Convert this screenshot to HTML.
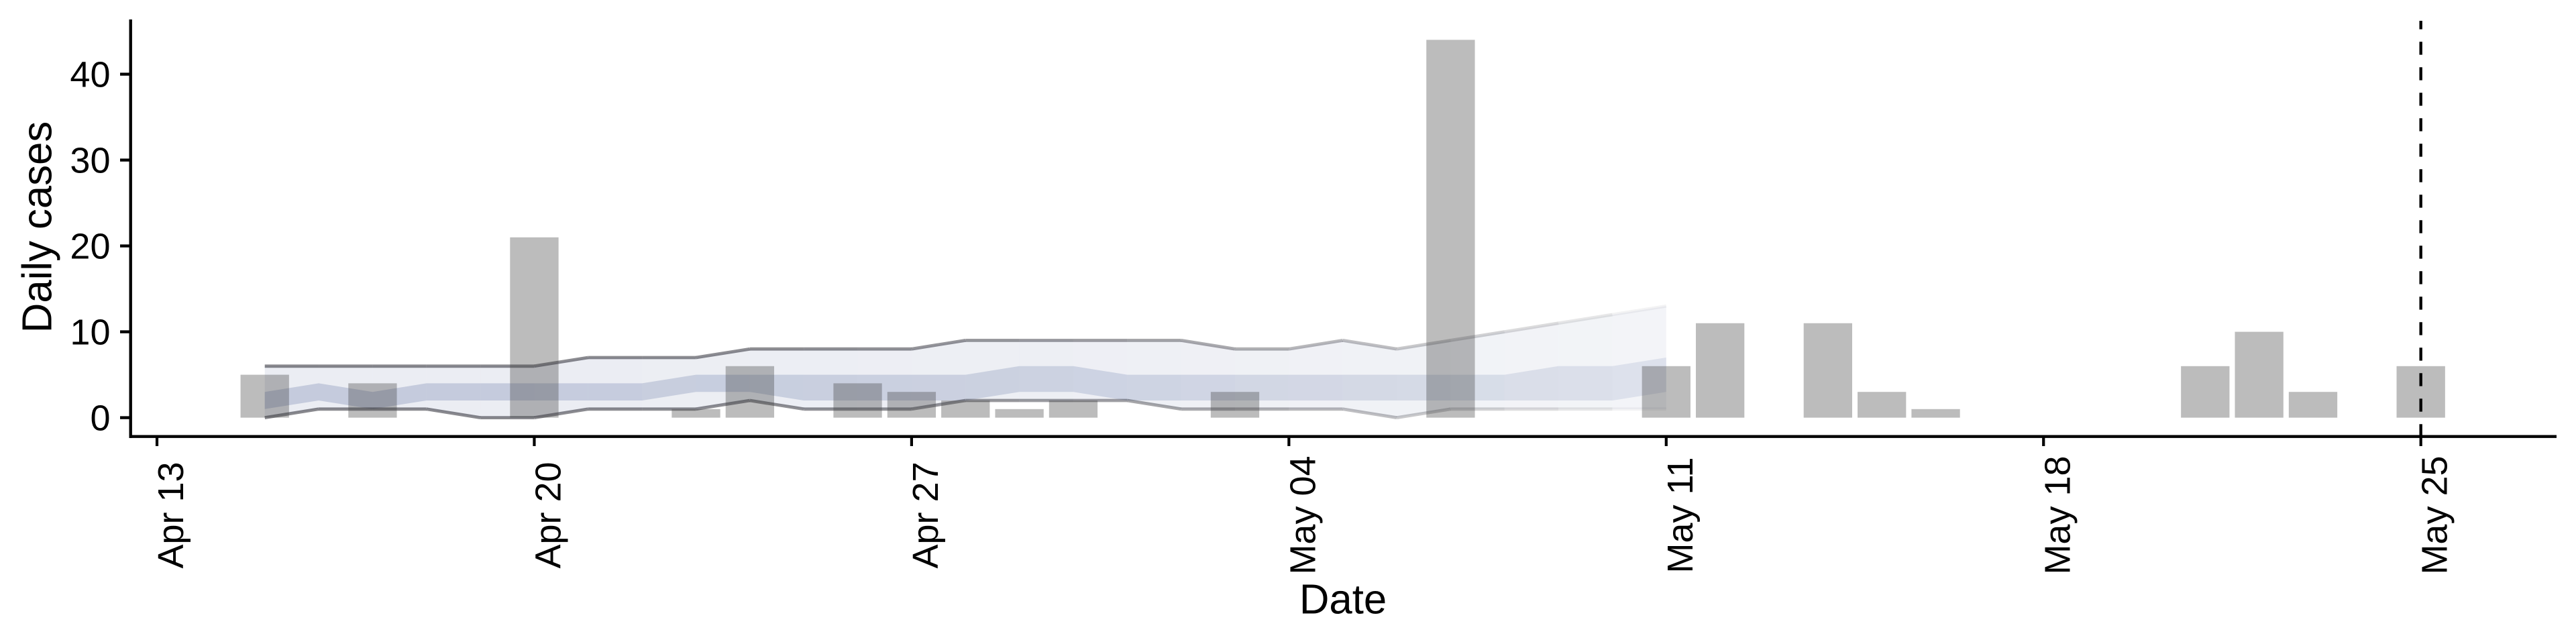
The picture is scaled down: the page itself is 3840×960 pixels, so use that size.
<!DOCTYPE html>
<html lang="en">
<head>
<meta charset="utf-8">
<title>Daily cases chart</title>
<style>
html,body{margin:0;padding:0;background:#fff;width:3840px;height:960px;overflow:hidden}
svg{display:block}
text{font-family:"Liberation Sans",sans-serif;fill:#000}
</style>
</head>
<body>
<svg id="chart" xmlns="http://www.w3.org/2000/svg" width="3840" height="960" viewBox="0 0 3840 960">
  <rect x="0" y="0" width="3840" height="960" fill="#ffffff"/>
  <g id="ribbons"></g>
  <g id="edges"></g>
  <g id="bars"></g>
  <g id="xaxis"></g>
  <g id="yaxis"></g>
  <g id="marker"></g>
  <text x="2002" y="914.3" font-size="61.7" text-anchor="middle">Date</text>
  <text transform="translate(76.5,338.5) rotate(-90)" font-size="61.7" text-anchor="middle">Daily cases</text>
</svg>
<script>
// Day numbers are counted from Apr 13.
const caseDays = [2, 4, 7, 10, 11, 13, 14, 15, 16, 17, 20, 24, 28, 29, 31, 32, 33, 38, 39, 40, 42];
const caseCounts = [5, 4, 21, 1, 6, 4, 3, 2, 1, 2, 3, 44, 6, 11, 11, 3, 1, 6, 10, 3, 6];

const forecastFirstDay = 2;
const outerUpper = [6, 6, 6, 6, 6, 6, 7, 7, 7, 8, 8, 8, 8, 9, 9, 9, 9, 9, 8, 8, 9, 8, 9, 10, 11, 12, 13];
const outerLower = [0, 1, 1, 1, 0, 0, 1, 1, 1, 2, 1, 1, 1, 2, 2, 2, 2, 1, 1, 1, 1, 0, 1, 1, 1, 1, 1];
const innerUpper = [3, 4, 3, 4, 4, 4, 4, 4, 5, 5, 5, 5, 5, 5, 6, 6, 5, 5, 5, 5, 5, 5, 5, 5, 6, 6, 7];
const innerLower = [1, 2, 1, 2, 2, 2, 2, 2, 3, 3, 2, 2, 2, 2, 3, 3, 2, 2, 2, 2, 2, 2, 2, 2, 2, 2, 3];

const xTickDays = [0, 7, 14, 21, 28, 35, 42];
const xTickLabels = ["Apr 13", "Apr 20", "Apr 27", "May 04", "May 11", "May 18", "May 25"];
const yTickValues = [0, 10, 20, 30, 40];
const forecastDateDay = 42;

const NS = "http://www.w3.org/2000/svg";
const xScale = d => 234 + d * 80.35;
const yScale = v => 622.6 - 12.8 * v;
const make = (parent, tag, attrs) => {
  const n = document.createElementNS(NS, tag);
  for (const k in attrs) n.setAttribute(k, attrs[k]);
  parent.appendChild(n);
  return n;
};

const ribbons = document.getElementById("ribbons");
const edges = document.getElementById("edges");
const bars = document.getElementById("bars");
const xaxis = document.getElementById("xaxis");
const yaxis = document.getElementById("yaxis");
const marker = document.getElementById("marker");

function ribbonSegment(upper, lower, i) {
  const d0 = forecastFirstDay + i, d1 = d0 + 1;
  return xScale(d0) + "," + yScale(upper[i]) + " " + xScale(d1) + "," + yScale(upper[i + 1]) + " " +
         xScale(d1) + "," + yScale(lower[i + 1]) + " " + xScale(d0) + "," + yScale(lower[i]);
}

const segCount = outerUpper.length - 1;
for (let i = 0; i < segCount; i++) {
  const t = i / (segCount - 1);
  const outer = make(ribbons, "polygon", {
    points: ribbonSegment(outerUpper, outerLower, i),
    fill: "rgb(155,165,195)",
    "fill-opacity": (0.2 - 0.08 * t * t).toFixed(3)
  });
  
  
  const inner = make(ribbons, "polygon", {
    points: ribbonSegment(innerUpper, innerLower, i),
    fill: "rgb(90,110,160)",
    "fill-opacity": (0.26 - 0.12 * t * t).toFixed(3)
  });
  
  
  const lineAlpha = (0.5 * (1 - Math.pow(t, 3) * 0.9)).toFixed(3);
  for (const series of [outerUpper, outerLower]) {
    const seg = make(edges, "line", {
      x1: xScale(forecastFirstDay + i), y1: yScale(series[i]),
      x2: xScale(forecastFirstDay + i + 1), y2: yScale(series[i + 1]),
      stroke: "rgb(20,20,30)", "stroke-width": 4.8, "stroke-opacity": lineAlpha
    });
    
    
  }
}

const barWidth = 80.35 * 0.9;
caseDays.forEach((d, i) => {
  const top = yScale(caseCounts[i]);
  const bar = make(bars, "rect", {
    x: xScale(d) - barWidth / 2, y: top,
    width: barWidth, height: yScale(0) - top,
    fill: "#3e3e3e", "fill-opacity": 0.35
  });
  
  
});

const xLine = make(xaxis, "line", { x1: 192.5, y1: 650.7, x2: 3811, y2: 650.7, stroke: "#000", "stroke-width": 4.4 });


xTickDays.forEach((d, i) => {
  const tx = xScale(d);
  const tick = make(xaxis, "line", { x1: tx, y1: 650.7, x2: tx, y2: 665, stroke: "#000", "stroke-width": 4.2 });
  
  
  const label = make(xaxis, "text", {
    transform: "translate(" + (tx + 39) + ",768) rotate(-90)",
    "font-size": 54, "text-anchor": "middle"
  });
  label.textContent = xTickLabels[i];
  
  
});

const yLine = make(yaxis, "line", { x1: 194.7, y1: 29, x2: 194.7, y2: 652.9, stroke: "#000", "stroke-width": 4.4 });


yTickValues.forEach(v => {
  const ty = yScale(v);
  const tick = make(yaxis, "line", { x1: 179, y1: ty, x2: 194.7, y2: ty, stroke: "#000", "stroke-width": 4.4 });
  
  
  const label = make(yaxis, "text", { x: 164.5, y: ty + 19, "font-size": 54, "text-anchor": "end" });
  label.textContent = String(v);
  
  
});

const dash = make(marker, "line", {
  x1: xScale(forecastDateDay), y1: 31, x2: xScale(forecastDateDay), y2: 664,
  stroke: "#000", "stroke-width": 4.4, "stroke-dasharray": "19.3 18.7", "stroke-dashoffset": 6.7
});


</script>
</body>
</html>
